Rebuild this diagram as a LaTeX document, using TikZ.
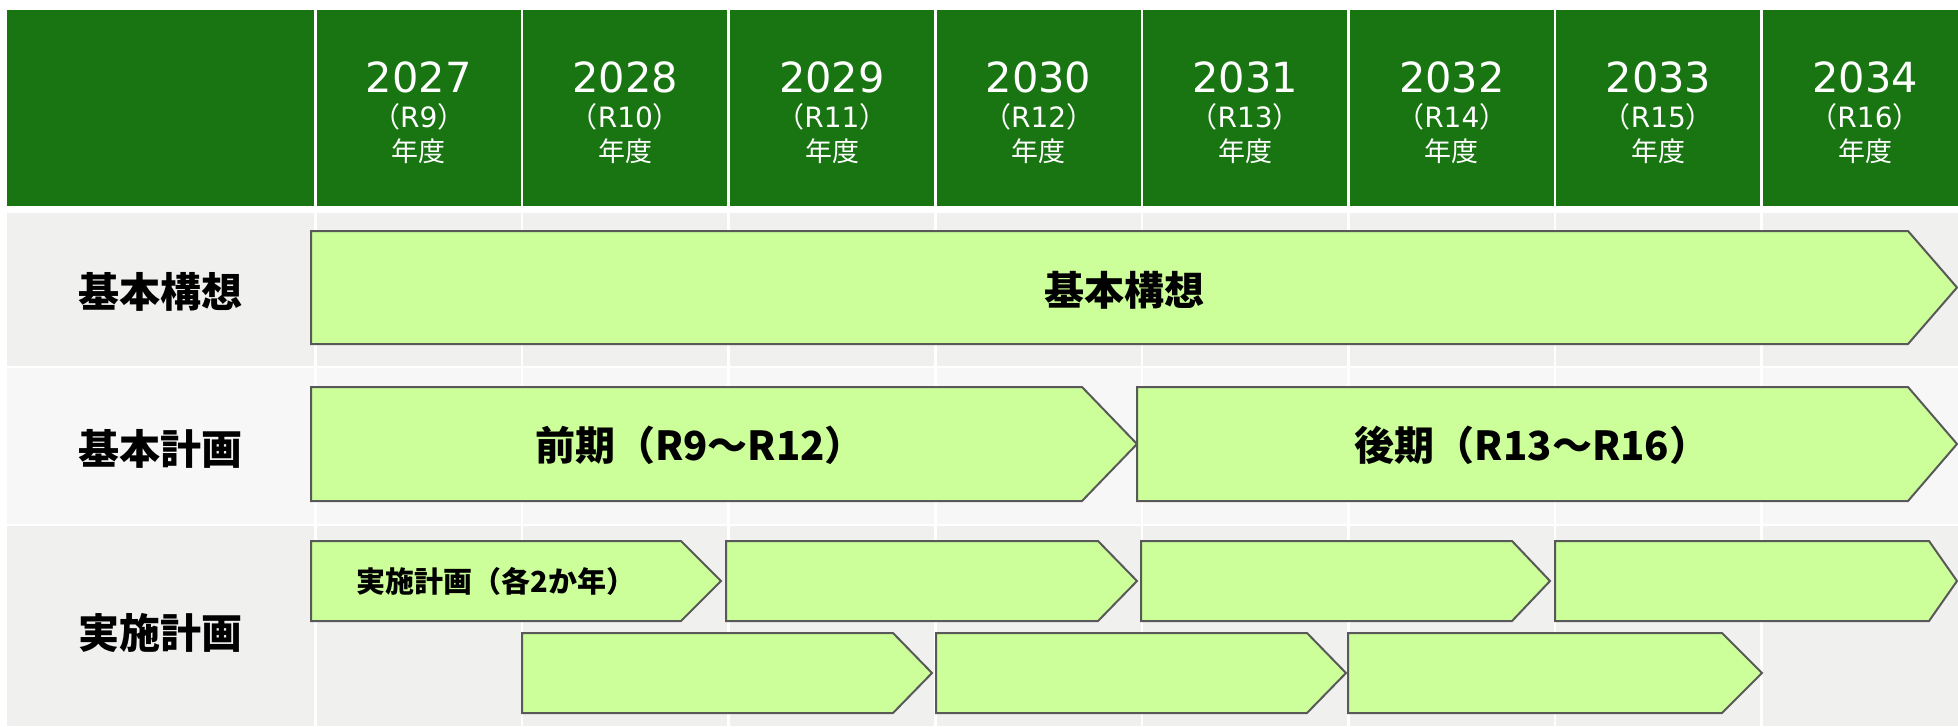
\documentclass[tikz,border=0pt]{standalone}
\usepackage{fontspec}
\newfontfamily\jp{Noto Sans CJK JP}
\newfontfamily\dv{DejaVu Sans}
\definecolor{hdr}{RGB}{24,117,17}
\definecolor{barfill}{RGB}{204,255,153}
\definecolor{barline}{RGB}{89,89,89}
\definecolor{rowA}{RGB}{240,240,238}
\definecolor{rowB}{RGB}{247,247,247}
\tikzset{
  barstyle/.style={fill=barfill, draw=barline, line width=2pt, line join=miter},
  yrtxt/.style={text=white, font=\dv\fontsize{41.5}{41.5}\selectfont, inner sep=0pt, anchor=base},
  rtxt/.style={text=white, font=\dv\fontsize{28}{28}\selectfont, inner sep=0pt, anchor=base},
  ndtxt/.style={text=white, font=\jp\fontsize{27}{27}\selectfont, inner sep=0pt},
  rowlabel/.style={text=black, font=\jp\bfseries\fontsize{41}{41}\selectfont, inner sep=0pt},
  bartxt/.style={text=black, font=\jp\bfseries\fontsize{40}{40}\selectfont, inner sep=0pt},
  smalltxt/.style={text=black, font=\jp\bfseries\fontsize{29}{29}\selectfont, inner sep=0pt},
}
\newcommand\chevbar[5]{\draw[barstyle] (#1,#2) -- (#3,#2) -- (#4,{(#2+#5)/2}) -- (#3,#5) -- (#1,#5) -- cycle;}
\begin{document}
\begin{tikzpicture}[x=1pt,y=-1pt]
\useasboundingbox (0,0) rectangle (1958,726);
\fill[white] (0,0) rectangle (1958,726);
% header band and row backgrounds
\fill[hdr] (7,10) rectangle (1958,206);
\fill[rowA] (7,213) rectangle (1958,366);
\fill[rowB] (7,368) rectangle (1958,524);
\fill[rowA] (7,526) rectangle (1958,726);
% column dividers
\foreach \i in {0,...,7}
  \draw[white, line width=2.5pt] ({315.5+206.6*\i},10) -- ({315.5+206.6*\i},726);
% header texts
\foreach \yr/\r [count=\i from 0] in {2027/9,2028/10,2029/11,2030/12,2031/13,2032/14,2033/15,2034/16}{
  \node[yrtxt] (yr\i) at ({315.5+206.6*(\i+0.5)},92) {\yr};
  \node[rtxt] (rr\i) at ({315.5+206.6*(\i+0.5)},127) {{\jp （}R\r{\jp ）}};
  \node[ndtxt] (nd\i) at ({315.5+206.6*(\i+0.5)},151) {年度};
}
% row labels
\node[rowlabel] (l1) at (160,292) {基本構想};
\node[rowlabel] (l2) at (160,449) {基本計画};
\node[rowlabel] (l3) at (160,633) {実施計画};
% row 1
\chevbar{311}{231}{1908}{1957}{344}
\node[bartxt] (b1) at (1124,290) {基本構想};
% row 2
\chevbar{311}{387}{1082}{1137}{501}
\chevbar{1137}{387}{1908}{1957}{501}
\node[bartxt] (b2a) at (700,445) {前期（R9～R12）};
\node[bartxt] (b2b) at (1532,445) {後期（R13～R16）};
% row 3 upper
\chevbar{311}{541}{681}{721}{621}
\chevbar{726}{541}{1098}{1137}{621}
\chevbar{1141}{541}{1512}{1550}{621}
\chevbar{1555}{541}{1929}{1957}{621}
\node[smalltxt] (b3) at (496,581) {実施計画（各2か年）};
% row 3 lower
\chevbar{522}{633}{893}{932}{713}
\chevbar{936}{633}{1307}{1346}{713}
\chevbar{1348}{633}{1722}{1762}{713}
\end{tikzpicture}
\end{document}
